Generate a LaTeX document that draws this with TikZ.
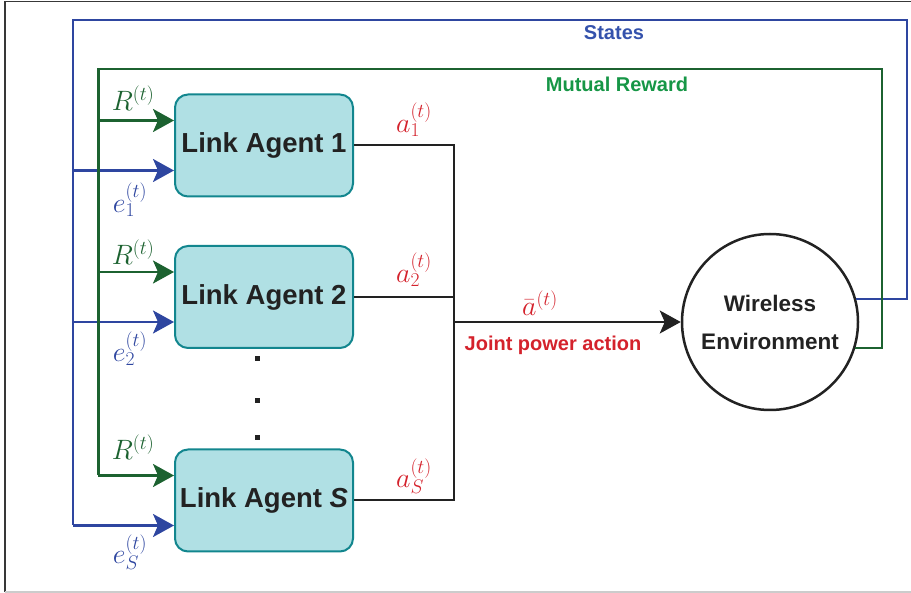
\documentclass[tikz,border=0pt]{standalone}
\usepackage{fix-cm}
\usepackage{fontspec}
\usetikzlibrary{arrows.meta,calc}
\newfontfamily\arial{Liberation Sans}

\definecolor{stblue}{RGB}{46,70,160}
\definecolor{sttext}{RGB}{52,82,172}
\definecolor{rwgreen}{RGB}{28,98,48}
\definecolor{rwtext}{RGB}{22,150,70}
\definecolor{actred}{RGB}{212,34,44}
\definecolor{agfill}{RGB}{176,224,228}
\definecolor{agline}{RGB}{18,134,142}
\definecolor{ink}{RGB}{34,34,34}

\tikzset{
  agent/.style={draw=agline, fill=agfill, line width=2pt, rounded corners=13pt,
    minimum width=178pt, minimum height=102pt, inner sep=0pt,
    font=\arial\bfseries\fontsize{27.5}{32}\selectfont, text=ink},
  envnode/.style={draw=ink, circle, line width=2.5pt, minimum size=176pt, inner sep=0pt,
    align=center, font=\arial\bfseries\fontsize{22.5}{38}\selectfont, text=ink},
  bl/.style={draw=stblue, line width=2.5pt},
  gr/.style={draw=rwgreen, line width=2.5pt},
  bk/.style={draw=ink, line width=2pt},
  tip/.style={-{Stealth[length=21pt,width=23pt,inset=5pt]}},
  mathlbl/.style={inner sep=0pt, font=\fontsize{28}{32}\selectfont},
  caption/.style={inner sep=0pt, font=\arial\bfseries\fontsize{20}{24}\selectfont},
  dotmark/.style={fill=ink, minimum size=5pt, inner sep=0pt, rectangle},
}

\begin{document}
\begin{tikzpicture}[x=1pt,y=-1pt]
\useasboundingbox (0,0) rectangle (911,593);

% outer frame
\draw[draw=ink!90, line width=1.5pt] (5,592) -- (5,1.5) -- (911,1.5);
\draw[draw=black!20, line width=1.5pt] (5,592) -- (911,592);

% agents and environment
\node[agent] (A1) at (264,145.5) {Link Agent 1};
\node[agent] (A2) at (264,297) {Link Agent 2};
\node[agent] (AS) at (264,500.5) {Link Agent {\itshape S}};
\node[envnode] (Env) at (770,322) {Wireless\\Environment};

% vertical ellipsis between agent 2 and agent S
\node[dotmark] (d1) at (257,359) {};
\node[dotmark] (d2) at (257,401) {};
\node[dotmark] (d3) at (257,438) {};

% input points of each agent
\foreach \n in {A1,A2,AS}{
  \coordinate (\n r) at ([yshift=25pt]\n.west);
  \coordinate (\n e) at ([yshift=-25pt]\n.west);
}

% trunk corners
\coordinate (sTR) at (907,20);
\coordinate (sTL) at (73,20);
\coordinate (gTR) at (882,69);
\coordinate (gTL) at (98.3,69);
\coordinate (jX) at (453.5,0);

% states feedback (blue)
\draw[bl, line join=miter] (Env.15) -| (sTR) -- (sTL) -- (sTL |- ASe);
\foreach \n in {A1,A2,AS}{
  \draw[bl, tip, fill=stblue] (sTL |- \n e) -- (\n e);
}

% mutual reward feedback (green)
\draw[gr, line join=miter] (Env.-17) -| (gTR) -- (gTL) -- (gTL |- ASr);
\foreach \n in {A1,A2,AS}{
  \draw[gr, tip, fill=rwgreen] (gTL |- \n r) -- (\n r);
}

% joint action bus (black)
\draw[bk, line join=miter] (A1.east) -- (A1.east -| jX) -- (AS.east -| jX) -- (AS.east);
\draw[bk] (A2.east) -- (A2.east -| jX);
\draw[bk, tip, fill=ink] (Env.west -| jX) -- (Env.west);

% labels
\node[caption, text=sttext] (lS) at (614,33) {States};
\node[caption, text=rwtext] (lR) at (617,84) {Mutual Reward};
\node[caption, text=actred] (lJ) at (553,345) {Joint power action};
\node[mathlbl, text=actred] (lab) at (540,303) {$\bar{a}^{(t)}$};

\node[mathlbl, text=rwgreen] (r1) at (133,98) {$R^{(t)}$};
\node[mathlbl, text=rwgreen] (r2) at (133,252) {$R^{(t)}$};
\node[mathlbl, text=rwgreen] (r3) at (133,447) {$R^{(t)}$};

\node[mathlbl, text=stblue] (e1) at (130,200) {$e_1^{(t)}$};
\node[mathlbl, text=stblue] (e2) at (130,349) {$e_2^{(t)}$};
\node[mathlbl, text=stblue] (e3) at (130,552) {$e_S^{(t)}$};

\node[mathlbl, text=actred] (a1) at (414,120) {$a_1^{(t)}$};
\node[mathlbl, text=actred] (a2) at (414,270) {$a_2^{(t)}$};
\node[mathlbl, text=actred] (a3) at (414,476) {$a_S^{(t)}$};
\end{tikzpicture}
\end{document}
